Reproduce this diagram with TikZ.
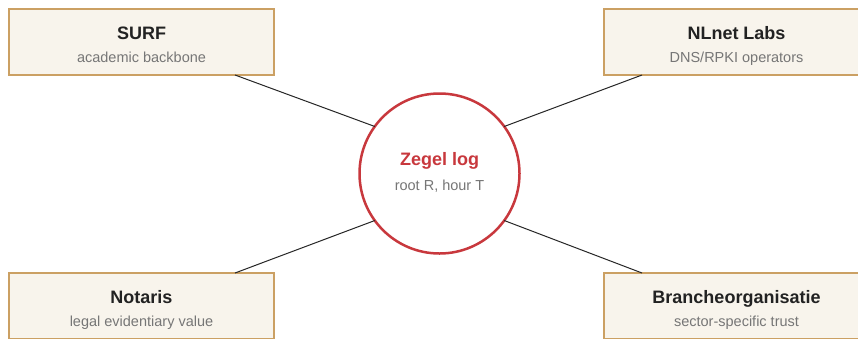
\documentclass[tikz,border=0pt]{standalone}
\usepackage{fontspec}
\setmainfont{Liberation Sans}
\definecolor{boxfill}{HTML}{F8F4EC}
\definecolor{boxline}{HTML}{CBA063}
\definecolor{sealred}{HTML}{C8383D}
\definecolor{titleink}{HTML}{222222}
\definecolor{subink}{HTML}{767676}
\tikzset{
  partner/.style={draw=boxline, fill=boxfill, line width=1.5pt, rectangle,
    minimum width=265pt, minimum height=66pt, inner sep=0pt, outer sep=0pt},
  ptitle/.style={anchor=base, inner sep=0pt, text=titleink,
    font=\fontsize{18}{20}\selectfont\bfseries},
  psub/.style={anchor=base, inner sep=0pt, text=subink,
    font=\fontsize{14.5}{17}\selectfont},
  seal/.style={draw=sealred, fill=white, line width=2.5pt, circle,
    minimum size=160pt, inner sep=0pt, outer sep=0pt},
  link/.style={draw=black!85, line width=1pt}
}
\begin{document}
\begin{tikzpicture}[x=1pt, y=-1pt]
  \useasboundingbox (0,0) rectangle (858,338);
  \path[fill=white] (0,0) rectangle (858,338);

  % partner boxes
  \node[partner] (surf)   at (141.5,42)  {};
  \node[partner] (nlnet)  at (736.5,42)  {};
  \node[partner] (notar)  at (141.5,306) {};
  \node[partner] (branch) at (736.5,306) {};

  % central log
  \node[seal] (log) at (439.5,173.5) {};

  % connectors from each partner to the log
  \coordinate (surfA)   at ([xshift=93.5pt]surf.south);
  \coordinate (nlnetA)  at ([xshift=-94.5pt]nlnet.south);
  \coordinate (notarA)  at ([xshift=93.5pt]notar.north);
  \coordinate (branchA) at ([xshift=-94.5pt]branch.north);
  \draw[link] (surfA)   -- (log.144);
  \draw[link] (nlnetA)  -- (log.36);
  \draw[link] (notarA)  -- (log.216);
  \draw[link] (branchA) -- (log.324);

  % box labels (shifts are in page direction: positive is up)
  \node[ptitle] (surfT)   at ([yshift=2.7pt]surf.center)     {SURF};
  \node[psub]   (surfS)   at ([yshift=-20.3pt]surf.center)   {academic backbone};
  \node[ptitle] (nlnetT)  at ([yshift=2.7pt]nlnet.center)    {NLnet Labs};
  \node[psub]   (nlnetS)  at ([yshift=-20.3pt]nlnet.center)  {DNS/RPKI operators};
  \node[ptitle] (notarT)  at ([yshift=2.7pt]notar.center)    {Notaris};
  \node[psub]   (notarS)  at ([yshift=-20.3pt]notar.center)  {legal evidentiary value};
  \node[ptitle] (branchT) at ([yshift=2.7pt]branch.center)   {Brancheorganisatie};
  \node[psub]   (branchS) at ([yshift=-20.3pt]branch.center) {sector-specific trust};

  % log labels
  \node[ptitle, text=sealred] (logT) at ([yshift=8.5pt]log.center) {Zegel log};
  \node[psub] (logS) at ([yshift=-16.5pt]log.center) {root R, hour T};
\end{tikzpicture}
\end{document}
